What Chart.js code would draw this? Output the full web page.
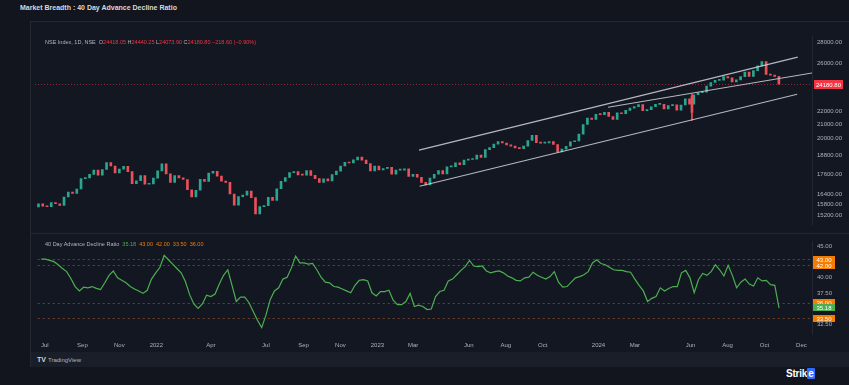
<!DOCTYPE html>
<html><head><meta charset="utf-8">
<script src="https://cdn.jsdelivr.net/npm/chart.js@4.4.1/dist/chart.umd.min.js"></script>
<style>
html,body{margin:0;padding:0;background:#12151e;width:849px;height:385px;overflow:hidden;font-family:"Liberation Sans","DejaVu Sans",sans-serif;}
#title{position:absolute;left:20px;top:3px;font-size:7px;line-height:10px;font-weight:700;color:#d6d8de;white-space:nowrap;}
#panel{position:absolute;left:30px;top:21px;width:819px;height:331px;background:#131722;border-left:1px solid #242834;border-top:1px solid #242834;}
#footer{position:absolute;left:30px;top:352px;width:819px;height:15px;background:#1a1e29;border-left:1px solid #242834;}
#tv{position:absolute;left:6px;top:3px;font-size:6px;line-height:9px;color:#b2b5be;white-space:nowrap;}
#tv b{font-size:7px;color:#d1d4dc;margin-right:2px;}
canvas{position:absolute;}
#c1{left:33px;top:28px;}
#c2{left:33px;top:233px;}
#sep{position:absolute;left:31px;top:233px;width:818px;height:1px;background:#232733;}
.leg{position:absolute;font-size:5.5px;line-height:7px;white-space:nowrap;color:#b2b5be;}
#leg1{left:45px;top:38.5px;}
#leg2{left:45px;top:240.5px;}
.r{color:#f23645;}
.g{color:#4caf50;}
.o{color:#f57c00;}
#strike{position:absolute;left:786px;top:367px;font-size:10px;line-height:13px;font-weight:700;color:#ffffff;white-space:nowrap;letter-spacing:-0.2px;}
#strike span{background:#2f6bff;color:#fff;padding:0 1px;border-radius:1px;}
</style>
</head><body>
<div id="title">Market Breadth : 40 Day Advance Decline Ratio</div>
<div id="panel"></div>
<div id="sep"></div>
<div id="footer"><div id="tv"><b>TV</b>TradingView</div></div>
<canvas id="c1" width="816" height="205"></canvas>
<canvas id="c2" width="816" height="120"></canvas>
<div class="leg" id="leg1">NSE Index, 1D, NSE &nbsp;O<span class="r">24418.05</span> H<span class="r">24440.25</span> L<span class="r">24073.90</span> C<span class="r">24180.80</span> <span class="r">−218.60 (−0.90%)</span></div>
<div class="leg" id="leg2">40 Day Advance Decline Ratio &nbsp;<span class="g">35.18</span> &nbsp;<span class="o">43.00</span> &nbsp;<span class="o">42.00</span> &nbsp;<span class="o">33.50</span> &nbsp;<span class="o">36.00</span></div>
<div id="strike">Strik<span>e</span></div>
<script>
// ---------- DATA ----------
const weekStart = '2021-06-25';           // first weekly candle (Friday)
const firstOpen = 15683;                   // open of first weekly candle
const niftyCloses = [
 15860,15722,15690,15924,15856,15763,16238,16529,16450,16705,17324,17369,17585,17853,17532,17895,18339,18115,17672,17917,18102,17765,17027,17197,17511,16985,17004,17354,
 17812,18256,17617,17102,17516,17375,17276,16658,16246,16630,17287,17153,17670,17784,17476,17172,17102,16411,15782,16266,16352,16584,16202,15293,15699,15752,16220,16049,16719,17158,17398,17698,17758,17559,17539,17833,17531,17327,17094,17315,17186,17576,17787,18117,18350,18308,18513,18696,18497,18270,17807,18105,
 17860,17957,18028,17604,17854,17856,17944,17465,17594,17413,17100,16945,17360,17599,17828,17624,18065,18069,18315,18203,18499,18534,18563,18826,18665,19189,19332,19564,19745,19646,19517,19428,19310,19266,19435,19820,20192,19674,19638,19654,19751,19543,19047,19230,19425,19732,19795,20268,20970,21457,21349,21731,
 21711,21895,21572,21353,21854,21783,22041,22213,22339,22494,22023,22097,22327,22514,22519,22147,22420,22476,22055,22467,22957,22531,23290,23466,23501,24011,24324,24502,24531,24835,24718,24367,24541,24823,25236,24852,25357,25791,26179,25015,24964,24854,24180.8
];
const adRatio = [
 43.0,43.0,42.8,42.6,42.1,41.5,41.0,39.9,38.6,37.9,
 38.5,38.4,38.6,38.3,38.1,39.2,40.4,41.1,40.0,39.6,
 39.2,38.6,38.2,37.9,37.5,38.0,39.8,40.8,41.7,43.6,
 42.9,42.2,41.5,40.8,39.4,37.3,35.8,35.1,35.8,37.2,
 37.0,37.4,39.0,40.4,41.3,38.8,36.2,36.9,36.9,36.0,
 34.6,33.2,32.0,34.0,36.5,37.9,38.4,39.8,40.1,41.6,
 43.5,42.4,42.4,42.2,42.3,41.3,40.1,39.3,39.2,38.6,
 38.5,38.2,37.9,37.6,38.8,39.6,39.7,39.5,37.6,37.1,
 37.8,37.8,38.0,36.4,35.7,35.7,36.2,37.5,35.4,35.6,
 35.4,34.9,35.0,37.0,37.8,38.0,39.5,39.8,40.5,41.2,
 41.8,42.8,41.9,41.8,41.9,41.1,40.8,41.0,41.1,40.8,
 40.3,40.0,39.6,39.5,40.0,40.1,40.9,40.4,40.1,39.8,
 40.2,41.0,39.3,38.5,38.6,39.3,40.0,40.2,40.5,41.0,
 42.4,42.9,42.3,42.1,41.7,41.3,41.2,41.2,41.0,40.9,
 39.8,38.8,37.9,36.2,36.7,37.0,38.4,37.9,38.3,38.6,
 38.6,40.8,41.2,40.0,37.6,39.7,40.7,40.4,41.0,42.1,
 41.3,40.3,42.0,40.4,38.4,39.3,39.8,39.0,38.7,40.0,
 39.5,39.6,38.9,38.8,35.18
];
const spikeDates = ['2024-06-04'];
const spikeOpen = [23179];
const spikeHigh = [23338];
const spikeLow = [21281];
const spikeClose = [21884];
const trendStartDates = ['2023-03-13','2023-03-14','2024-01-18'];
const trendStartPrices = [19160,16866,22287];
const trendEndDates = ['2024-11-25','2024-11-24','2024-12-20'];
const trendEndPrices = [26600,23335,25160];
const lastPrice = 24180.80;
const priceTicks = [28000,26000,22000,21000,20000,18800,17600,16400,15800,15200];
const adLevels = [43,42,36,33.5];
const adLast = 35.18;
const adTicks = [45,42.5,40,37.5,35,32.5];
const monthTickDates = ['2021-07-01','2021-09-01','2021-11-01','2022-01-01','2022-04-01','2022-07-01','2022-09-01','2022-11-01','2023-01-01','2023-03-01','2023-06-01','2023-08-01','2023-10-01','2024-01-01','2024-03-01','2024-06-01','2024-08-01','2024-10-01','2024-12-01'];
const monthTickLabels = ['Jul','Sep','Nov','2022','Apr','Jul','Sep','Nov','2023','Mar','Jun','Aug','Oct','2024','Mar','Jun','Aug','Oct','Dec'];

// ---------- VIEW RANGES ----------
const X_MIN = -0.82, X_MAX = 181.78;
const Y1_MIN = 14744, Y1_MAX = 28594;
const Y2_MIN = 30.98, Y2_MAX = 45.82;

const DAY = 86400000;
const t0 = Date.parse(weekStart);
const idx = d => (Date.parse(d) - t0) / (7 * DAY);
const UP = '#2aa58f', DOWN = '#e9505a';
const FONT = {size: 6, family: '"Liberation Sans", "DejaVu Sans", sans-serif'};
const AXIS_W = 37;

const candleData = niftyCloses.map((c, i) => ({x: i, y: [i === 0 ? firstOpen : niftyCloses[i - 1], c]}));
const colorOf = ctx => { const r = ctx.raw; return (r && r.y[1] >= r.y[0]) ? UP : DOWN; };

function drawBox(ctx, x, y, w, h, bg, text) {
  ctx.save();
  ctx.fillStyle = bg;
  ctx.fillRect(x, Math.round(y - h / 2), w, h);
  ctx.fillStyle = '#ffffff';
  ctx.font = '6px "Liberation Sans", sans-serif';
  ctx.textAlign = 'center';
  ctx.textBaseline = 'middle';
  ctx.fillText(text, x + w / 2, Math.round(y - h / 2) + h / 2 + 0.5);
  ctx.restore();
}

const pricePlugin = {
  id: 'priceLine',
  beforeDatasetsDraw(chart) {
    const {ctx, chartArea: a} = chart;
    const y = chart.scales.y.getPixelForValue(lastPrice);
    ctx.save();
    ctx.strokeStyle = 'rgba(242,54,69,0.55)';
    ctx.lineWidth = 1;
    ctx.setLineDash([1, 2]);
    ctx.beginPath(); ctx.moveTo(a.left, Math.round(y) + 0.5); ctx.lineTo(a.right, Math.round(y) + 0.5); ctx.stroke();
    ctx.restore();
  },
  afterDraw(chart) {
    const y = chart.scales.y.getPixelForValue(lastPrice);
    drawBox(chart.ctx, chart.chartArea.right + 2, y, 29, 9, '#f23645', lastPrice.toFixed(2));
  }
};

const levelPlugin = {
  id: 'levels',
  beforeDatasetsDraw(chart) {
    const {ctx, chartArea: a} = chart;
    ctx.save();
    ctx.strokeStyle = 'rgba(235,110,40,0.45)';
    ctx.lineWidth = 1;
    ctx.setLineDash([2, 3]);
    adLevels.forEach(v => {
      const y = Math.round(chart.scales.y.getPixelForValue(v)) + 0.5;
      ctx.beginPath(); ctx.moveTo(a.left, y); ctx.lineTo(a.right, y); ctx.stroke();
    });
    ctx.restore();
  },
  afterDraw(chart) {
    const x = chart.chartArea.right + 1;
    adLevels.forEach(v => drawBox(chart.ctx, x, chart.scales.y.getPixelForValue(v), 22, 7, '#f57c00', v.toFixed(2)));
    drawBox(chart.ctx, x, chart.scales.y.getPixelForValue(adLast), 22, 7, '#4caf50', adLast.toFixed(2));
  }
};

const trendSets = trendStartDates.map((d, i) => ({
  type: 'line',
  data: [{x: idx(d), y: trendStartPrices[i]}, {x: idx(trendEndDates[i]), y: trendEndPrices[i]}],
  borderColor: 'rgba(210,212,220,0.85)', borderWidth: 1.1, pointRadius: 0, order: 0
}));

new Chart(document.getElementById('c1'), {
  type: 'bar',
  data: {datasets: [
    {type: 'bar', data: candleData, backgroundColor: colorOf, barThickness: 2, minBarLength: 1, grouped: false, order: 3},
    {type: 'bar', data: spikeDates.map((d, i) => ({x: idx(d), y: [spikeLow[i], spikeHigh[i]]})), backgroundColor: DOWN, barThickness: 1, grouped: false, order: 2},
    {type: 'bar', data: spikeDates.map((d, i) => ({x: idx(d), y: [spikeOpen[i], spikeClose[i]]})), backgroundColor: DOWN, barThickness: 2, grouped: false, order: 2},
    ...trendSets
  ]},
  options: {
    responsive: false, animation: false, devicePixelRatio: 1,
    layout: {padding: {left: 2, top: 2, bottom: 1, right: 0}},
    plugins: {legend: {display: false}, tooltip: {enabled: false}},
    scales: {
      x: {type: 'linear', display: false, min: X_MIN, max: X_MAX, offset: false},
      y: {type: 'logarithmic', position: 'right', min: Y1_MIN, max: Y1_MAX,
          afterBuildTicks: s => { s.ticks = priceTicks.map(v => ({value: v})); },
          afterFit: s => { s.width = AXIS_W; },
          grid: {display: false, drawTicks: false},
          border: {display: true, color: '#232733'},
          ticks: {color: '#aeb1ba', font: FONT, padding: 5, callback: v => Number(v).toFixed(2)}}
    }
  },
  plugins: [pricePlugin]
});

new Chart(document.getElementById('c2'), {
  type: 'line',
  data: {datasets: [{
    data: adRatio.map((v, i) => ({x: i, y: v})),
    borderColor: '#4caf50', borderWidth: 1.2, pointRadius: 0, tension: 0
  }]},
  options: {
    responsive: false, animation: false, devicePixelRatio: 1,
    layout: {padding: {left: 2, top: 1, bottom: 0, right: 0}},
    plugins: {legend: {display: false}, tooltip: {enabled: false}},
    scales: {
      x: {type: 'linear', min: X_MIN, max: X_MAX, offset: false,
          afterBuildTicks: s => { s.ticks = monthTickDates.map(d => ({value: idx(d)})); },
          afterFit: s => { s.height = 19; },
          grid: {display: false, drawTicks: false}, border: {display: false},
          ticks: {autoSkip: false, maxRotation: 0, color: '#aeb1ba', font: FONT, padding: 8,
                  callback: (v, i) => monthTickLabels[i]}},
      y: {type: 'linear', position: 'right', min: Y2_MIN, max: Y2_MAX,
          afterBuildTicks: s => { s.ticks = adTicks.map(v => ({value: v})); },
          afterFit: s => { s.width = AXIS_W; },
          grid: {display: false, drawTicks: false},
          border: {display: true, color: '#232733'},
          ticks: {color: '#aeb1ba', font: FONT, padding: 5, callback: v => Number(v).toFixed(2)}}
    }
  },
  plugins: [levelPlugin]
});
</script>
</body></html>
